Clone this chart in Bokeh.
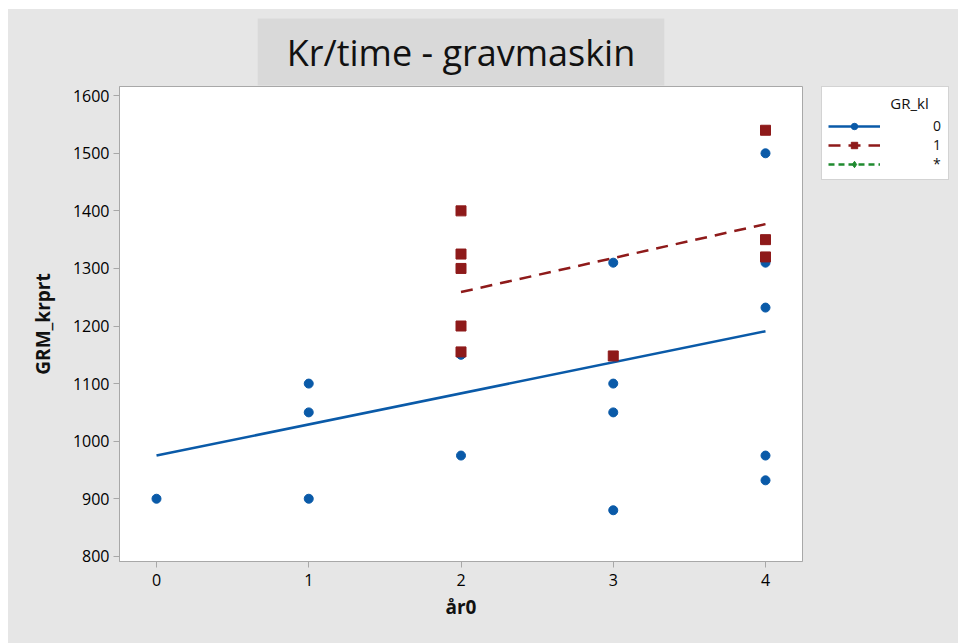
from bokeh.plotting import figure
from bokeh.layouts import row
from bokeh.models import Range1d, FixedTicker, Legend, LegendItem, ColumnDataSource
from bokeh.embed import file_html
from bokeh.resources import INLINE

# ---- data ----
years0 = [0, 1, 1, 1, 2, 2, 3, 3, 3, 3, 4, 4, 4, 4, 4]
krprt0 = [900, 1100, 1050, 900, 1150, 975, 1310, 1100, 1050, 880, 1500, 1310, 1232, 975, 932]
years1 = [2, 2, 2, 2, 2, 3, 4, 4, 4]
krprt1 = [1400, 1325, 1300, 1200, 1155, 1148, 1540, 1350, 1320]
years_missing = [float("nan")]
krprt_missing = [float("nan")]
fit0_x = [0, 4]
fit0_y = [975, 1191]
fit1_x = [2, 4]
fit1_y = [1259, 1377]
y_ticks = [800, 900, 1000, 1100, 1200, 1300, 1400, 1500, 1600]
x_ticks = [0, 1, 2, 3, 4]
groups = ["0", "1", "*"]

title_text = "Kr/time - gravmaskin"
x_label = "år0"
y_label = "GRM_krprt"
legend_title = "GR_kl"

BLUE = "#0a5aa8"
RED = "#8e1a1a"
GREEN = "#1f8a2f"
BG = "#e6e6e6"
AX = "#a8a8a8"
FONT = "Open Sans"

# styles per group: (colour, dash, marker, size)
styles = [(BLUE, "solid", "circle", 9), (RED, "12 8", "square", 10), (GREEN, "6 4", "diamond", 13)]

p = figure(frame_width=683, frame_height=475, output_backend="svg", toolbar_location=None,
           x_range=Range1d(-0.243, 4.243), y_range=Range1d(791, 1616),
           min_border_left=111, min_border_top=76, min_border_right=10,
           min_border_bottom=82)
p.border_fill_color = BG
p.background_fill_color = "white"
p.outline_line_color = AX
p.xgrid.visible = False
p.ygrid.visible = False

# title in a grey box
p.title.text = title_text
p.title.align = "center"
p.title.standoff = 2
p.title.text_font = FONT
p.title.text_font_size = "36px"
p.title.text_font_style = "normal"
p.title.text_color = "#111111"
p.title.background_fill_color = "#d9d9d9"
p.title.padding = (29, 9)

for ax in (p.xaxis[0], p.yaxis[0]):
    ax.axis_line_color = AX
    ax.major_tick_line_color = AX
    ax.major_tick_in = 0
    ax.major_tick_out = 6
    ax.minor_tick_line_color = None
    ax.major_label_text_font = FONT
    ax.major_label_text_font_size = "16px"
    ax.major_label_text_color = "#000000"
    ax.axis_label_text_font = FONT
    ax.axis_label_text_font_size = "19px"
    ax.axis_label_text_font_style = "bold"
    ax.axis_label_text_color = "#111111"

p.xaxis.ticker = FixedTicker(ticks=x_ticks)
p.yaxis.ticker = FixedTicker(ticks=y_ticks)
p.xaxis.axis_label = x_label
p.yaxis.axis_label = y_label
p.xaxis.major_label_standoff = 6
p.yaxis.major_label_standoff = 4
p.xaxis.axis_label_standoff = 5
p.yaxis.axis_label_standoff = 14

# fit lines
p.line(fit0_x, fit0_y, line_color=styles[0][0], line_width=2.5)
p.line(fit1_x, fit1_y, line_color=styles[1][0], line_width=2.5, line_dash=styles[1][1])
# points
p.scatter(years0, krprt0, marker=styles[0][2], size=styles[0][3],
          fill_color=styles[0][0], line_color=styles[0][0])
p.scatter(years1, krprt1, marker=styles[1][2], size=styles[1][3],
          fill_color=styles[1][0], line_color=styles[1][0])

# ---- legend panel (a second figure to the right) ----
q = figure(frame_width=132, frame_height=110, output_backend="svg", toolbar_location=None,
           x_axis_type=None, y_axis_type=None, x_range=Range1d(0, 1), y_range=Range1d(0, 1),
           min_border_left=9, min_border_top=77, min_border_right=5,
           min_border_bottom=634 - 77 - 110)
q.border_fill_color = BG
q.background_fill_color = BG
q.outline_line_color = None
q.xgrid.visible = False
q.ygrid.visible = False

miss = ColumnDataSource(data=dict(x=years_missing, y=krprt_missing))
items = []
for grp, (col, dash, mk, sz) in zip(groups, styles):
    ln = q.line("x", "y", source=miss, line_color=col, line_width=2.5, line_dash=dash)
    sc = q.scatter("x", "y", source=miss, marker=mk, size=sz, fill_color=col, line_color=col)
    items.append(LegendItem(label=grp, renderers=[ln, sc]))

legend = Legend(items=items,
                title="\u00a0" * 16 + legend_title, title_text_font=FONT,
                title_text_font_size="15px", title_text_font_style="normal",
                title_text_color="#111111", title_standoff=3,
                location="top_left", padding=6, spacing=0, glyph_width=52, glyph_height=16,
                label_standoff=53, label_height=12, label_width=9, label_text_font=FONT,
                label_text_font_size="14px",
                label_text_color="#111111", border_line_color=AX,
                background_fill_color="white", background_fill_alpha=1, margin=0)
q.add_layout(legend)

layout = row(p, q, margin=(9, 0, 0, 8), styles={"background-color": BG})
open("out.html", "w").write(file_html(layout, INLINE))
